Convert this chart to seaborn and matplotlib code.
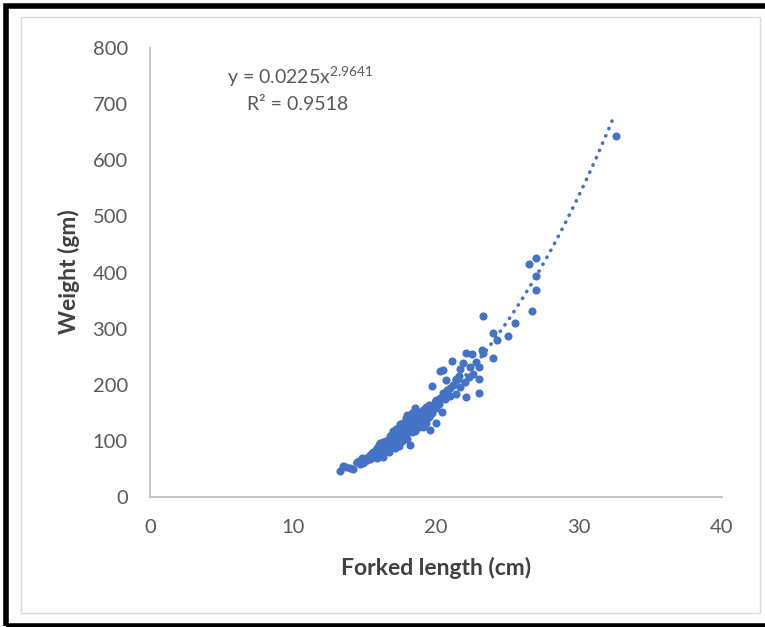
import numpy as np
import pandas as pd
import matplotlib
matplotlib.use("Agg")
import matplotlib.pyplot as plt
from matplotlib.patches import Rectangle
import seaborn as sns

# Fork length (cm) and body weight (gm) of sampled fish
fork_length = [
    13.3, 13.5, 13.7, 14.0, 14.2, 14.5, 14.6, 14.7, 14.8, 14.9,
    15.0, 15.1, 15.2, 15.3, 15.4, 15.4, 15.5, 15.6, 15.6, 15.7,
    15.8, 15.8, 15.9, 15.9, 16.0, 16.0, 16.0, 16.1, 16.1, 16.2,
    16.2, 16.3, 16.3, 16.3, 16.4, 16.4, 16.5, 16.5, 16.5, 16.6,
    16.6, 16.7, 16.7, 16.7, 16.8, 16.8, 16.8, 16.9, 16.9, 16.9,
    17.0, 17.0, 17.0, 17.1, 17.1, 17.1, 17.2, 17.2, 17.2, 17.3,
    17.3, 17.3, 17.4, 17.4, 17.4, 17.5, 17.5, 17.5, 17.6, 17.6,
    17.6, 17.7, 17.7, 17.7, 17.8, 17.8, 17.8, 17.9, 17.9, 17.9,
    18.0, 18.0, 18.0, 18.0, 18.1, 18.1, 18.2, 18.2, 18.2, 18.3,
    18.3, 18.3, 18.4, 18.4, 18.5, 18.5, 18.5, 18.6, 18.6, 18.7,
    18.7, 18.8, 18.8, 18.9, 18.9, 19.0, 19.0, 19.1, 19.1, 19.2,
    19.2, 19.3, 19.3, 19.4, 19.5, 19.5, 19.6, 19.6, 19.7, 19.7,
    19.8, 19.9, 20.0, 20.0, 20.0, 20.2, 20.3, 20.3, 20.4, 20.5,
    20.5, 20.6, 20.7, 20.8, 21.0, 21.0, 21.1, 21.2, 21.4, 21.4,
    21.4, 21.6, 21.7, 21.7, 21.9, 22.0, 22.1, 22.1, 22.3, 22.4,
    22.5, 22.6, 22.8, 23.0, 23.0, 23.0, 23.2, 23.3, 23.3, 24.0,
    24.0, 24.3, 25.0, 25.5, 26.5, 26.7, 27.0, 27.0, 27.0, 32.6,
]
weight = [
    47, 55, 54, 51, 50, 62, 65, 58, 69, 60,
    64, 70, 66, 72, 75, 68, 78, 71, 80, 74,
    84, 77, 88, 70, 82, 92, 75, 96, 86, 80,
    90, 98, 84, 72, 94, 88, 100, 82, 92, 97,
    87, 103, 92, 80, 108, 95, 86, 113, 100, 90,
    105, 96, 118, 110, 100, 88, 122, 104, 94, 115,
    108, 98, 125, 112, 90, 118, 104, 130, 122, 110,
    100, 131, 115, 106, 126, 118, 108, 140, 122, 112,
    146, 128, 116, 104, 135, 120, 137, 125, 93, 150,
    130, 115, 140, 122, 158, 134, 118, 145, 128, 152,
    136, 140, 124, 143, 132, 150, 135, 155, 125, 145,
    138, 160, 132, 150, 164, 142, 161, 119, 198, 150,
    156, 170, 173, 131, 158, 165, 176, 225, 152, 185,
    226, 175, 208, 190, 194, 180, 243, 200, 208, 184,
    211, 215, 196, 228, 239, 205, 178, 256, 214, 232,
    255, 220, 240, 231, 210, 186, 262, 257, 323, 293,
    248, 279, 287, 310, 415, 331, 425, 394, 369, 643,
]

# Power trendline coefficients and fit statistic
fit_a = 0.0225
fit_b = 2.9641
fit_r2 = 0.9518

x_ticks = [0, 10, 20, 30, 40]
y_ticks = [0, 100, 200, 300, 400, 500, 600, 700, 800]

df = pd.DataFrame({"length": fork_length, "weight": weight})

sns.set_theme(style="white")
plt.rcParams["font.family"] = ["Lato", "DejaVu Sans"]
plt.rcParams["mathtext.fontset"] = "custom"
plt.rcParams["mathtext.rm"] = "Lato"

W, H = 765, 627
fig = plt.figure(figsize=(W / 100, H / 100), dpi=100)
ax = fig.add_axes([150 / W, 1 - 497 / H, (722 - 150) / W, (497 - 48) / H])

blue = "#4472C4"
grey_txt = "#595959"

sns.scatterplot(data=df, x="length", y="weight", ax=ax, color=blue,
                s=34, linewidth=0, zorder=3)

# Dotted power-law trendline
xs = np.linspace(min(fork_length), max(fork_length) - 0.1, 300)
ax.plot(xs, fit_a * xs ** fit_b, color=blue, lw=2.6,
        linestyle=(0, (0.1, 2.1)), dash_capstyle="round", zorder=4)

ax.set_xlim(0, 40)
ax.set_ylim(0, 800)
ax.set_xticks(x_ticks)
ax.set_yticks(y_ticks)
ax.tick_params(length=0, labelsize=14.5, colors=grey_txt)
ax.tick_params(axis="y", pad=16)
ax.tick_params(axis="x", pad=16)

for side in ("top", "right"):
    ax.spines[side].set_visible(False)
for side in ("left", "bottom"):
    ax.spines[side].set_color("#BFBFBF")
    ax.spines[side].set_linewidth(1.3)

ax.set_xlabel("Forked length (cm)", fontsize=16.5, fontweight="bold",
              color="#404040", va="center")
ax.set_ylabel("Weight (gm)", fontsize=16.5, fontweight="bold",
              color="#404040", va="center")
ax.xaxis.set_label_coords((436 - 150) / (722 - 150), (497 - 568) / (497 - 48))
ax.yaxis.set_label_coords((69 - 150) / (722 - 150), (497 - 272) / (497 - 48))

fig.text(300 / W, 1 - 77 / H, f"y = {fit_a}x$^{{\\mathregular{{{fit_b}}}}}$",
         ha="center", va="center", fontsize=14, color=grey_txt)
fig.text(298 / W, 1 - 104 / H, f"R² = {fit_r2}", ha="center", va="center",
         fontsize=14, color=grey_txt)

# Chart area frame and outer border
fig.patches.append(Rectangle((21 / W, 1 - 613 / H), (760 - 21) / W,
                             (613 - 17) / H, transform=fig.transFigure,
                             fill=False, edgecolor="#D9D9D9", lw=1.0))
fig.patches.append(Rectangle((6.5 / W, 1 - 625.5 / H), (775 - 6.5) / W,
                             (625.5 - 5.5) / H, transform=fig.transFigure,
                             fill=False, edgecolor="black", lw=4.0))

fig.savefig("out.png", dpi=100, facecolor="white")
